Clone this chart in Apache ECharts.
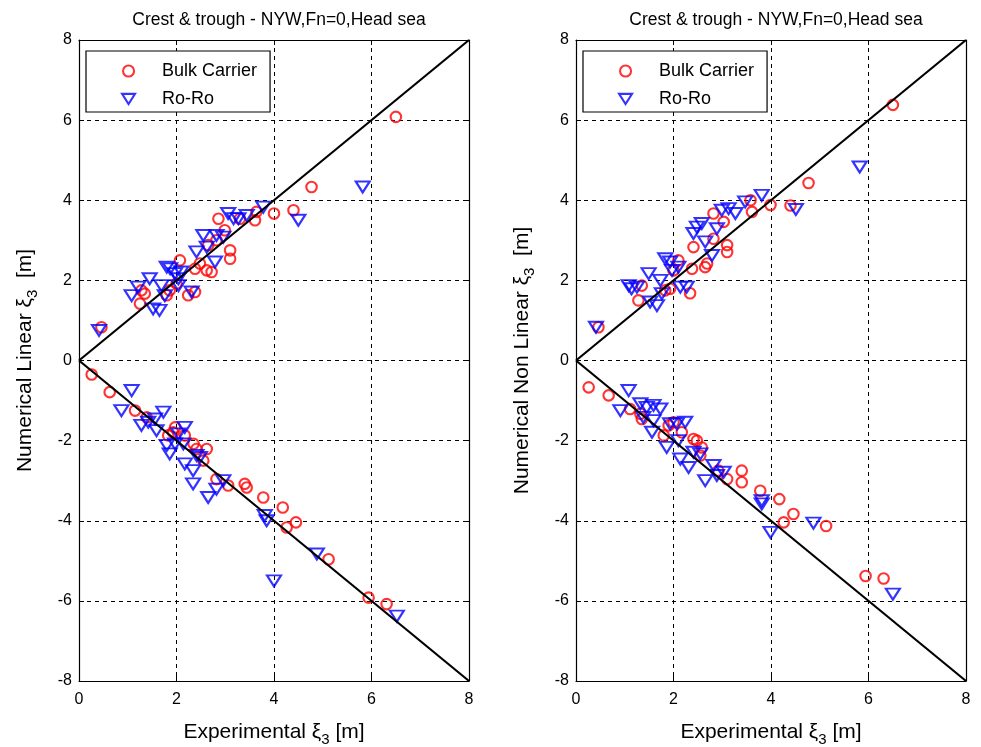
<!DOCTYPE html>
<html>
<head>
<meta charset="utf-8">
<script src="https://cdn.jsdelivr.net/npm/echarts@6/dist/echarts.min.js"></script>
<style>
html,body{margin:0;padding:0;background:#fff}
#c{width:981px;height:747px}
</style>
</head>
<body>
<div id="c"></div>
<script>
// Heave crest (positive) and trough (negative) amplitudes, experiment vs. numerical
const titleText = 'Crest & trough - NYW,Fn=0,Head sea';
const seriesNames = ['Bulk Carrier', 'Ro-Ro'];
const xTicks = [0, 2, 4, 6, 8];
const yTicks = [-8, -6, -4, -2, 0, 2, 4, 6, 8];

// Reference lines y = x and y = -x
const refX = [0, 8];
const refUp = [0, 8];
const refDown = [0, -8];

// Linear model - Bulk Carrier
const linBulkX = [0.46,1.25,1.28,1.35,1.80,1.86,2.00,2.07,2.24,2.38,2.38,2.48,2.62,2.72,2.65,2.82,2.86,2.99,3.10,3.10,3.30,3.61,3.64,4.00,4.40,4.77,6.50,
  0.26,0.63,1.15,1.39,1.83,1.93,1.97,2.17,2.35,2.41,2.62,2.55,2.82,3.06,3.40,3.44,3.78,4.18,4.26,4.45,5.12,5.94,6.31];
const linBulkY = [0.83,1.42,1.75,1.67,1.63,1.75,1.92,2.50,1.63,1.71,2.29,2.42,2.25,2.21,2.88,3.00,3.54,3.25,2.75,2.54,3.54,3.50,3.71,3.67,3.75,4.33,6.08,
  -0.35,-0.79,-1.25,-1.42,-1.87,-1.79,-1.67,-1.87,-2.08,-2.21,-2.21,-2.50,-2.96,-3.12,-3.08,-3.17,-3.42,-3.67,-4.17,-4.04,-4.96,-5.92,-6.08];

// Linear model - Ro-Ro
const linRoroX = [0.41,1.08,1.21,1.52,1.65,1.45,1.69,1.76,1.80,1.87,1.97,2.04,2.10,2.04,2.31,2.41,2.55,2.62,2.79,2.82,2.96,3.06,3.17,3.27,3.44,3.78,4.50,5.82,
  0.87,1.08,1.28,1.42,1.56,1.73,1.59,1.80,1.86,1.97,2.04,2.14,2.17,2.17,2.34,2.34,2.41,2.48,2.65,2.82,2.96,3.81,3.85,4.00,4.88,6.52];
const linRoroY = [0.75,1.62,1.83,1.29,1.25,2.04,1.87,1.62,2.33,2.29,2.17,2.04,2.21,1.87,1.71,2.71,3.12,2.83,2.46,3.12,3.08,3.67,3.54,3.54,3.62,3.83,3.50,4.33,
  -1.25,-0.75,-1.62,-1.54,-1.46,-1.29,-1.75,-2.12,-2.33,-2.08,-1.83,-2.08,-1.67,-2.58,-2.75,-3.08,-2.37,-2.42,-3.42,-3.21,-3.00,-3.87,-4.00,-5.50,-4.83,-6.38];

// Non linear model - Bulk Carrier
const nlBulkX = [0.46,1.28,1.35,1.83,1.93,2.00,2.10,2.34,2.38,2.65,2.69,2.41,2.82,2.82,3.03,3.10,3.10,3.58,3.61,3.99,4.40,4.77,6.50,
  0.26,0.67,1.11,1.32,1.35,1.80,1.90,2.00,2.17,2.41,2.48,2.58,2.55,2.92,3.10,3.40,3.40,3.78,4.17,4.26,4.46,5.13,5.94,6.31];
const nlBulkY = [0.83,1.50,1.87,1.75,1.79,2.25,2.50,1.68,2.29,2.33,2.42,2.83,3.04,3.67,3.46,2.88,2.71,4.00,3.71,3.88,3.87,4.43,6.38,
  -0.67,-0.87,-1.21,-1.33,-1.46,-1.87,-1.62,-1.54,-1.79,-1.96,-2.00,-2.17,-2.37,-2.75,-2.96,-2.75,-3.04,-3.25,-3.46,-4.04,-3.83,-4.13,-5.38,-5.44];

// Non linear model - Ro-Ro
const nlRoroX = [0.41,1.08,1.14,1.25,1.49,1.52,1.66,1.73,1.76,1.83,1.93,1.97,2.10,2.14,2.27,2.41,2.48,2.58,2.65,2.79,2.89,2.99,3.13,3.27,3.47,3.81,4.51,5.82,
  0.91,1.08,1.32,1.45,1.59,1.73,1.38,1.59,1.56,1.86,1.93,2.07,2.24,2.10,2.14,2.31,2.41,2.55,2.65,2.82,2.89,3.03,3.81,3.81,3.99,4.87,6.50];
const nlRoroY = [0.83,1.87,1.79,1.83,2.17,1.46,1.37,2.00,1.67,2.54,2.46,2.25,2.33,1.83,1.83,3.17,3.33,3.42,2.96,2.62,3.29,3.75,3.79,3.67,3.96,4.12,3.77,4.83,
  -1.25,-0.75,-1.08,-1.17,-1.12,-1.21,-1.42,-1.50,-1.79,-2.17,-1.58,-1.58,-1.54,-2.00,-2.46,-2.67,-2.29,-2.33,-3.00,-2.62,-2.87,-2.79,-3.50,-3.58,-4.29,-4.06,-5.83];

const zip = (xs, ys) => xs.map((x, i) => [x, ys[i]]);
const FONT = "'Liberation Sans', Arial, sans-serif";

const panels = [
  { left: 79, yName: 'Numerical Linear ', bulk: [linBulkX, linBulkY], roro: [linRoroX, linRoroY], legendLeft: 86 },
  { left: 576, yName: 'Numerical Non Linear ', bulk: [nlBulkX, nlBulkY], roro: [nlRoroX, nlRoroY], legendLeft: 583 }
];
const plotW = 390, plotTop = 40, plotH = 641;

const rich = {
  t: { fontSize: 21, fontFamily: FONT, color: '#000' },
  s: { fontSize: 15, fontFamily: FONT, color: '#000', padding: [14, 0, 0, 0] }
};

// Downward-pointing triangle used for the Ro-Ro marker in the legend
const downTriangle = 'path://M0,0 L14,0 L7,11 Z';
const circleStyle = { color: 'rgba(255,255,255,0)', borderColor: '#ff0000', borderWidth: 2.1 };
const triStyle = { color: 'rgba(255,255,255,0)', borderColor: '#0000ff', borderWidth: 2.1 };

const grid = [], xAxis = [], yAxis = [], series = [], title = [], legend = [];

panels.forEach((p, i) => {
  grid.push({
    left: p.left, top: plotTop, width: plotW, height: plotH, show: false,
    containLabel: false, outerBoundsMode: 'none'
  });
  title.push({
    text: titleText, left: p.left + plotW / 2, top: 6, textAlign: 'center',
    textStyle: { fontSize: 17.5, fontWeight: 'normal', color: '#000', fontFamily: FONT }
  });
  legend.push({
    left: p.legendLeft, top: 51, orient: 'vertical',
    data: [
      { name: seriesNames[0], icon: 'circle', itemStyle: circleStyle },
      { name: seriesNames[1], icon: downTriangle, itemStyle: triStyle }
    ],
    itemWidth: 13, itemHeight: 11, itemGap: 10,
    padding: [11, 13, 4, 35],
    formatter: name => '{a|' + name + '}',
    borderColor: '#000', borderWidth: 1.2, backgroundColor: '#fff',
    textStyle: {
      fontSize: 18, color: '#000', fontFamily: FONT,
      rich: { a: { fontSize: 18, lineHeight: 22, color: '#000', fontFamily: FONT, padding: [0, 0, 0, 22] } }
    },
    selectedMode: false
  });
  const baseX = {
    type: 'value', gridIndex: i, min: 0, max: 8, interval: 2,
    axisLine: { show: true, onZero: false, lineStyle: { color: '#000', width: 1.2 } },
    axisTick: { show: true, inside: true, length: 5, lineStyle: { color: '#000' } }
  };
  xAxis.push(Object.assign({}, baseX, {
    position: 'bottom',
    axisLabel: { fontSize: 16, color: '#000', fontFamily: FONT, margin: 11 },
    splitLine: { show: true, lineStyle: { color: '#000', type: [4, 4], width: 1 } },
    name: '{t|Experimental ξ}{s|3}{t| [m]}',
    nameLocation: 'middle', nameGap: 37,
    nameTextStyle: { rich }
  }));
  xAxis.push(Object.assign({}, baseX, {
    position: 'top', axisLabel: { show: false }, splitLine: { show: false }
  }));
  const baseY = {
    type: 'value', gridIndex: i, min: -8, max: 8, interval: 2,
    axisLine: { show: true, onZero: false, lineStyle: { color: '#000', width: 1.2 } },
    axisTick: { show: true, inside: true, length: 5, lineStyle: { color: '#000' } }
  };
  yAxis.push(Object.assign({}, baseY, {
    position: 'left',
    axisLabel: { fontSize: 16, color: '#000', fontFamily: FONT, margin: 7 },
    splitLine: { show: true, lineStyle: { color: '#000', type: [4, 4], width: 1 } },
    name: '{t|' + p.yName + 'ξ}{s|3}{t|  [m]}',
    nameLocation: 'middle', nameGap: 39, nameRotate: 90,
    nameTextStyle: { rich }
  }));
  yAxis.push(Object.assign({}, baseY, {
    position: 'right', axisLabel: { show: false }, splitLine: { show: false }
  }));

  const xi = i * 2, yi = i * 2;
  series.push({
    name: seriesNames[0], type: 'scatter', xAxisIndex: xi, yAxisIndex: yi,
    symbol: 'circle', symbolSize: 10.5,
    itemStyle: circleStyle,
    data: zip(p.bulk[0], p.bulk[1]), z: 2
  });
  series.push({
    name: seriesNames[1], type: 'scatter', xAxisIndex: xi, yAxisIndex: yi,
    symbol: 'triangle', symbolRotate: 180, symbolSize: [14, 11],
    itemStyle: triStyle,
    data: zip(p.roro[0], p.roro[1]), z: 2
  });
  [refUp, refDown].forEach(ys => {
    series.push({
      type: 'line', xAxisIndex: xi, yAxisIndex: yi, symbol: 'none',
      lineStyle: { color: '#000', width: 2.2 }, silent: true,
      data: zip(refX, ys), z: 3
    });
  });
});

const chart = echarts.init(document.getElementById('c'), null, { renderer: 'canvas' });
chart.setOption({
  backgroundColor: '#fff',
  animation: false,
  title, legend, grid, xAxis, yAxis, series
});
</script>
</body>
</html>
